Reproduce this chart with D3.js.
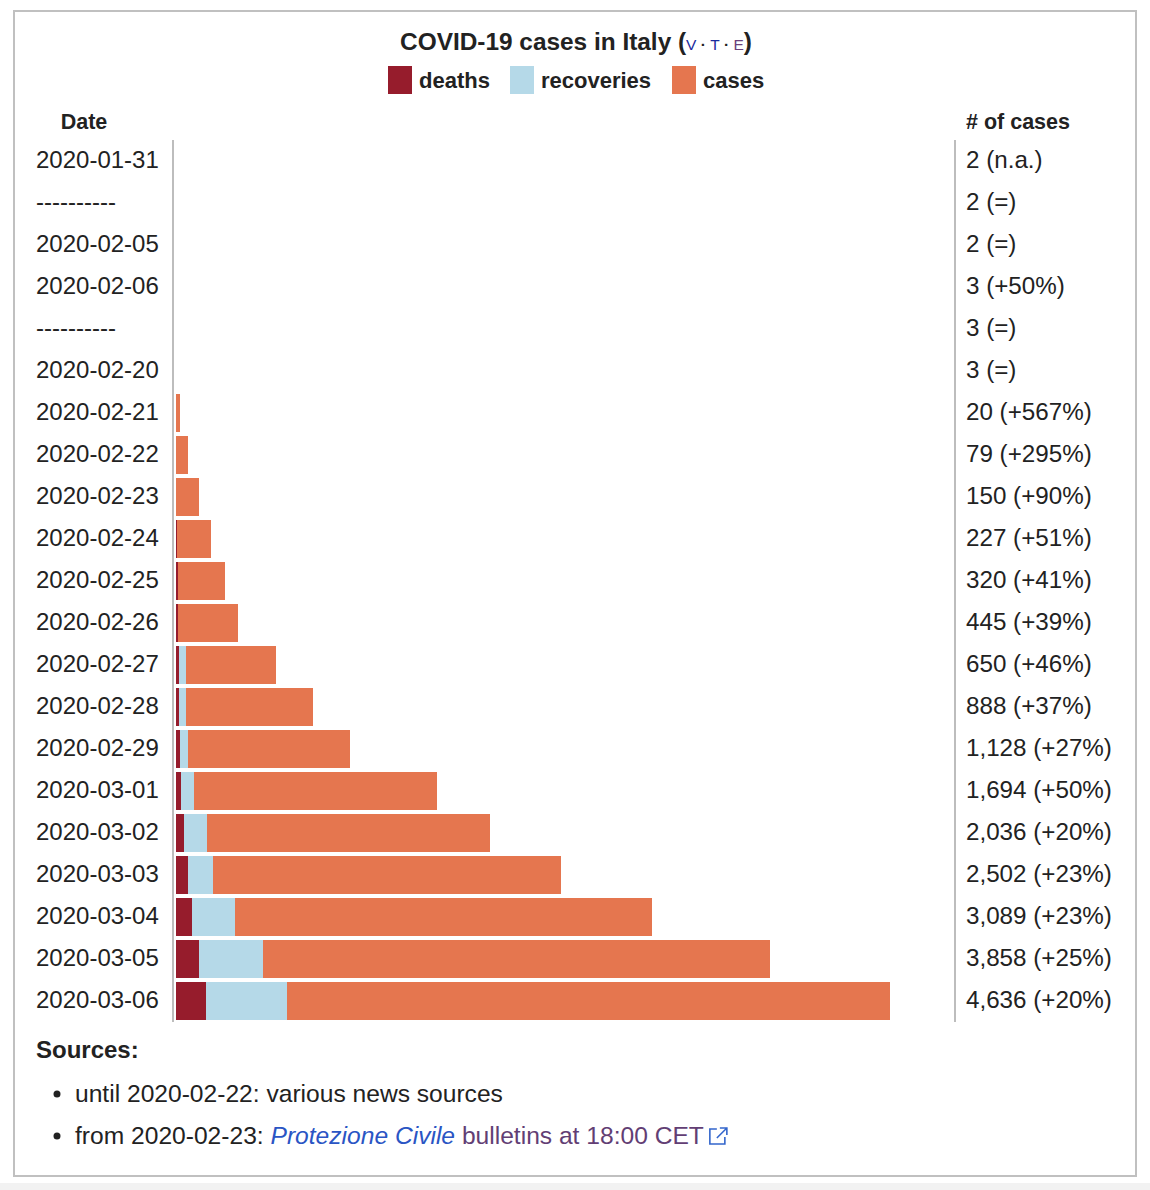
<!DOCTYPE html>
<html>
<head>
<meta charset="utf-8">
<script src="https://cdn.jsdelivr.net/npm/d3@7"></script>
<style>
  html, body { margin: 0; padding: 0; background: #fff; }
  svg { display: block; font-family: "Liberation Sans", Arial, Helvetica, sans-serif; }
</style>
</head>
<body>
<svg id="chart" width="1150" height="1190"></svg>
<script>
// ---- data ----
const dates = ["2020-01-31","----------","2020-02-05","2020-02-06","----------","2020-02-20",
  "2020-02-21","2020-02-22","2020-02-23","2020-02-24","2020-02-25","2020-02-26","2020-02-27",
  "2020-02-28","2020-02-29","2020-03-01","2020-03-02","2020-03-03","2020-03-04","2020-03-05","2020-03-06"];
const deaths     = [0,0,0,0,0,0,1,2,3,7,10,12,17,21,29,34,52,79,107,148,197];
const recoveries = [0,0,0,0,0,0,0,0,0,1,1,3,45,46,50,83,149,160,276,414,523];
// total bar length as drawn in the chart
const barTotals  = [2,2,2,3,3,3,24,79,150,227,320,400,650,888,1128,1694,2036,2502,3089,3858,4636];
const caseLabels = ["2 (n.a.)","2 (=)","2 (=)","3 (+50%)","3 (=)","3 (=)","20 (+567%)","79 (+295%)",
  "150 (+90%)","227 (+51%)","320 (+41%)","445 (+39%)","650 (+46%)","888 (+37%)","1,128 (+27%)",
  "1,694 (+50%)","2,036 (+20%)","2,502 (+23%)","3,089 (+23%)","3,858 (+25%)","4,636 (+20%)"];
const seriesNames = ["deaths","recoveries","cases"];
const seriesColors = ["#961c2c","#b5d9e8","#e5764f"];

// ---- chart ----
const svg = d3.select("#chart");
const textColor = "#222";

// frame
svg.append("rect").attr("x", 0).attr("y", 1183).attr("width", 1150).attr("height", 7).attr("fill", "#f2f2f2");
svg.append("rect").attr("x", 14).attr("y", 11).attr("width", 1122).attr("height", 1165)
  .attr("fill", "#fff").attr("stroke", "#c0c0c0").attr("stroke-width", 2);

// title
const title = svg.append("text").attr("x", 576).attr("y", 50).attr("text-anchor", "middle")
  .attr("fill", textColor).attr("font-size", 24.4).attr("font-weight", "bold");
title.append("tspan").text("COVID-19 cases in Italy (");
title.append("tspan").attr("font-size", 15.5).attr("font-weight", "normal").attr("fill", "#1a2a9c").text("V");
title.append("tspan").attr("font-size", 15.5).attr("font-weight", "bold").attr("fill", textColor).text(" · ");
title.append("tspan").attr("font-size", 15.5).attr("font-weight", "normal").attr("fill", "#1a2a9c").text("T");
title.append("tspan").attr("font-size", 15.5).attr("font-weight", "bold").attr("fill", textColor).text(" · ");
title.append("tspan").attr("font-size", 15.5).attr("font-weight", "normal").attr("fill", "#6b3f7a").text("E");
title.append("tspan").text(")");

// legend
const legendX = [388, 510, 672];
const lg = svg.append("g").selectAll("g").data(seriesNames).join("g")
  .attr("transform", (d, i) => `translate(${legendX[i]},66)`);
lg.append("rect").attr("width", 24).attr("height", 28).attr("fill", (d, i) => seriesColors[i]);
lg.append("text").attr("x", 31).attr("y", 22).attr("font-size", 22).attr("font-weight", "bold")
  .attr("fill", textColor).text(d => d);

// headers
svg.append("text").attr("x", 84).attr("y", 129).attr("text-anchor", "middle").attr("font-size", 21.5)
  .attr("font-weight", "bold").attr("fill", textColor).text("Date");
svg.append("text").attr("x", 966).attr("y", 129).attr("font-size", 21.5)
  .attr("font-weight", "bold").attr("fill", textColor).text("# of cases");

// scales
const y = d3.scaleBand().domain(d3.range(dates.length)).range([140, 1022]).paddingInner(4 / 42).paddingOuter(2 / 42);
const x = d3.scaleLinear().domain([0, d3.max(barTotals)]).range([176, 890]);

// stacked data: deaths, recoveries, remaining cases
const rows = dates.map((d, i) => ({ i, deaths: deaths[i], recoveries: recoveries[i], cases: barTotals[i] - deaths[i] - recoveries[i] }));
const stack = d3.stack().keys(seriesNames)(rows);

svg.append("g").selectAll("g").data(stack).join("g")
  .attr("fill", (d, k) => seriesColors[k])
  .selectAll("rect").data(d => d).join("rect")
  .attr("x", d => Math.round(x(d[0])))
  .attr("y", d => y(d.data.i))
  .attr("width", d => Math.max(0, Math.round(x(d[1])) - Math.round(x(d[0]))))
  .attr("height", y.bandwidth());

// vertical rules
[173, 955].forEach(xx => {
  svg.append("line").attr("x1", xx).attr("x2", xx).attr("y1", 140).attr("y2", 1022)
    .attr("stroke", "#bdbdbd").attr("stroke-width", 2);
});

// date labels
svg.append("g").selectAll("text").data(dates).join("text")
  .attr("x", 36).attr("y", (d, i) => y(i) + y.bandwidth() / 2 - 1).attr("dy", "0.35em")
  .attr("font-size", 24).attr("fill", textColor).text(d => d);

// case labels
svg.append("g").selectAll("text").data(caseLabels).join("text")
  .attr("x", 966).attr("y", (d, i) => y(i) + y.bandwidth() / 2 - 1).attr("dy", "0.35em")
  .attr("font-size", 24.2).attr("fill", textColor).text(d => d);

// sources
svg.append("text").attr("x", 36).attr("y", 1058).attr("font-size", 24).attr("font-weight", "bold")
  .attr("fill", textColor).text("Sources:");
[1094, 1136].forEach(yy => svg.append("circle").attr("cx", 57).attr("cy", yy).attr("r", 3.5).attr("fill", textColor));
svg.append("text").attr("x", 75).attr("y", 1102).attr("font-size", 24.6).attr("fill", textColor)
  .text("until 2020-02-22: various news sources");
const s2 = svg.append("text").attr("x", 75).attr("y", 1144).attr("font-size", 24.6).attr("fill", textColor);
s2.append("tspan").text("from 2020-02-23: ");
s2.append("tspan").attr("fill", "#2a55c4").attr("font-style", "italic").text("Protezione Civile");
s2.append("tspan").attr("fill", "#623e74").text(" bulletins at 18:00 CET");
// external link icon
const endX = 75 + s2.node().getComputedTextLength() + 5;
const ic = svg.append("g").attr("transform", `translate(${endX},1127)`).attr("fill", "none").attr("stroke", "#3366cc").attr("stroke-width", 1.6);
ic.append("path").attr("d", "M8 2 H1 V17 H16 V10");
ic.append("path").attr("d", "M11 1 H18 V8 M18 1 L8 11");
</script>
</body>
</html>
